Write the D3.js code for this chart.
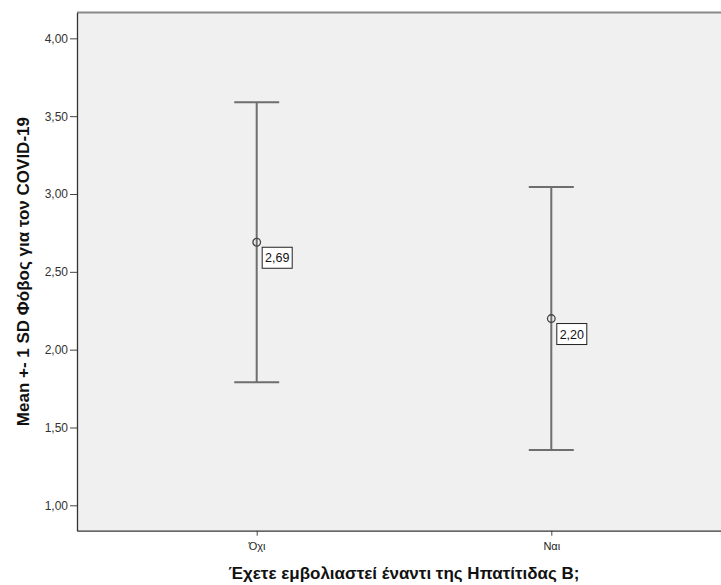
<!DOCTYPE html>
<html><head><meta charset="utf-8">
<script src="https://cdn.jsdelivr.net/npm/d3@7"></script>
<style>body{margin:0;background:#fff}svg{display:block}</style>
</head><body>
<svg id="c" width="721" height="585"></svg>
<script>
const categories = ["Όχι", "Ναι"];
const means = [2.69, 2.20];
const upper = [3.59, 3.045];
const lower = [1.79, 1.355];
const meanLabels = ["2,69", "2,20"];
const yTicks = [1.0, 1.5, 2.0, 2.5, 3.0, 3.5, 4.0];

const svg = d3.select("#c");
const L = 77, R = 731, T = 12.5, B = 530.7;
const x = d3.scalePoint().domain(categories).range([L, R]).padding(0.61);
const y = d3.scaleLinear().domain([0.837, 4.166]).range([B, T]);
const fmt = v => d3.format(".2f")(v).replace(".", ",");

svg.append("rect").attr("x", L).attr("y", T).attr("width", 721 - L).attr("height", B - T).attr("fill", "#f0f0f0");
svg.append("line").attr("x1", L).attr("x2", 721).attr("y1", T).attr("y2", T).attr("stroke", "#8a8a8a").attr("stroke-width", 2);

const yAxis = svg.append("g").attr("transform", `translate(${L},0)`)
  .call(d3.axisLeft(y).tickValues(yTicks).tickFormat(fmt).tickSize(7).tickSizeOuter(0).tickPadding(2));
yAxis.select(".domain").attr("stroke", "#333").attr("stroke-width", 1.3);
yAxis.selectAll(".tick line").attr("stroke", "#444");
yAxis.selectAll(".tick text").attr("font-family", "Liberation Sans, Arial, sans-serif").attr("font-size", 12).attr("fill", "#333");

const xAxis = svg.append("g").attr("transform", `translate(0,${B})`)
  .call(d3.axisBottom(x).tickSize(5).tickSizeOuter(0).tickPadding(7));
xAxis.select(".domain").attr("stroke", "#333").attr("stroke-width", 1.3);
xAxis.selectAll(".tick line").attr("stroke", "#444");
xAxis.selectAll(".tick text").attr("font-family", "Liberation Sans, Arial, sans-serif").attr("font-size", 11).attr("fill", "#222");

const g = svg.append("g");
categories.forEach((c, i) => {
  const cx = x(c);
  g.append("line").attr("x1", cx).attr("x2", cx).attr("y1", y(upper[i])).attr("y2", y(lower[i]))
    .attr("stroke", "#6e6e6e").attr("stroke-width", 2);
  [upper[i], lower[i]].forEach(v => {
    g.append("line").attr("x1", cx - 22.5).attr("x2", cx + 22.5).attr("y1", y(v)).attr("y2", y(v))
      .attr("stroke", "#6e6e6e").attr("stroke-width", 2);
  });
  const cy = y(means[i]);
  g.append("circle").attr("cx", cx).attr("cy", cy).attr("r", 3.8).attr("fill", "none").attr("stroke", "#444").attr("stroke-width", 1.3);
  g.append("rect").attr("x", cx + 5.5).attr("y", cy + 5).attr("width", 30).attr("height", 21)
    .attr("fill", "#fff").attr("stroke", "#222").attr("stroke-width", 1);
  g.append("text").attr("x", cx + 20.5).attr("y", cy + 20).attr("text-anchor", "middle")
    .attr("font-family", "Liberation Sans, Arial, sans-serif").attr("font-size", 12.5).attr("fill", "#111").text(meanLabels[i]);
});

svg.append("text").attr("transform", `translate(29,${(T + B) / 2}) rotate(-90)`).attr("text-anchor", "middle")
  .attr("font-family", "Liberation Sans, Arial, sans-serif").attr("font-weight", "bold").attr("font-size", 17).attr("fill", "#111")
  .text("Mean +- 1 SD Φόβος για τον COVID-19");
svg.append("text").attr("x", (L + R) / 2).attr("y", 579).attr("text-anchor", "middle")
  .attr("font-family", "Liberation Sans, Arial, sans-serif").attr("font-weight", "bold").attr("font-size", 17).attr("fill", "#111")
  .text("Έχετε εμβολιαστεί έναντι της Ηπατίτιδας Β;");
</script>
</body></html>
